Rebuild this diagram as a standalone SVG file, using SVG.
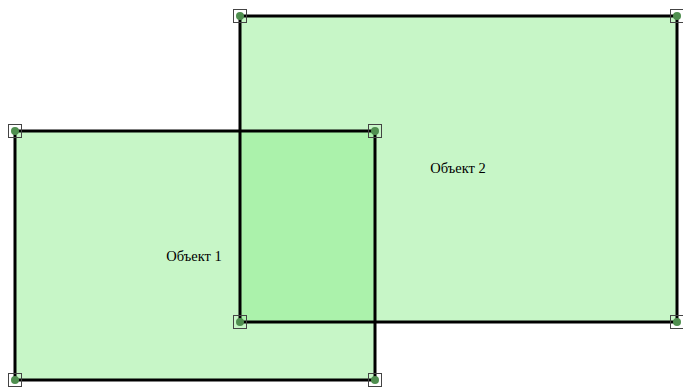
<svg xmlns="http://www.w3.org/2000/svg" width="683" height="387" viewBox="0 0 683 387">
<style>
.fill{fill:rgb(144,238,144);fill-opacity:0.5;stroke:none}
.edge{fill:none;stroke:#000;stroke-width:3}
.hs{fill:none;stroke:#444;stroke-width:1}
.hc{fill:#4f8f4f}
.lbl{font-family:"Liberation Serif",serif;font-size:14.5px;fill:#000;text-anchor:middle}
</style>
<defs>
<g id="h"><rect class="hs" x="-6.5" y="-6.5" width="13" height="13"/><circle class="hc" r="4"/></g>
</defs>
<g id="obj1">
<rect class="fill" x="15" y="131" width="360" height="249"/>
<text class="lbl" x="194" y="261">Объект 1</text>
</g>
<g id="obj2">
<rect class="fill" x="240" y="16" width="437" height="306"/>
<text class="lbl" x="458" y="173">Объект 2</text>
</g>
<g id="edges">
<rect class="edge" x="15" y="131" width="360" height="249"/>
<rect class="edge" x="240" y="16" width="437" height="306"/>
</g>
<g id="handles">
<use href="#h" x="15" y="131"/><use href="#h" x="375" y="131"/>
<use href="#h" x="15" y="380"/><use href="#h" x="375" y="380"/>
<use href="#h" x="240" y="16"/><use href="#h" x="677" y="16"/>
<use href="#h" x="240" y="322"/><use href="#h" x="677" y="322"/>
</g>
</svg>
